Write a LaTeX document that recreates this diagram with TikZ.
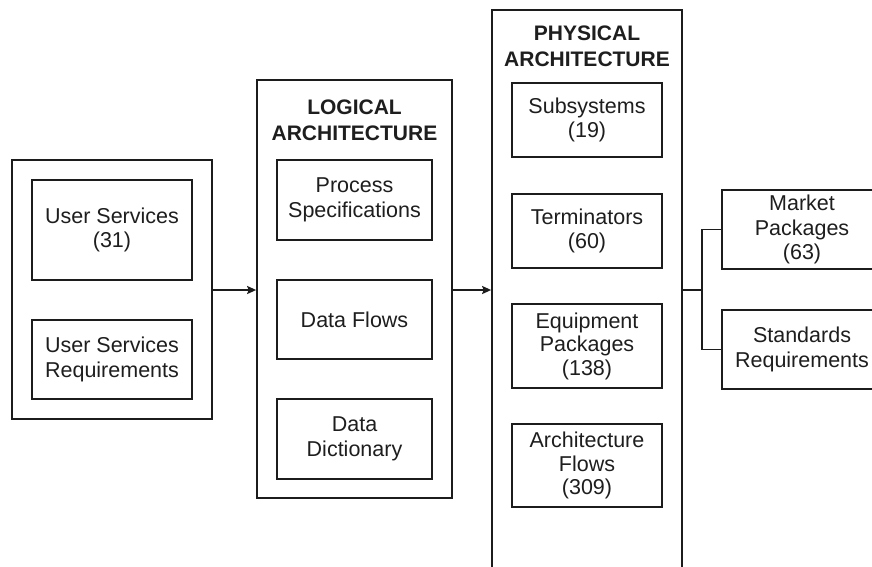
\documentclass[tikz,border=0pt]{standalone}
\usepackage{fontspec}
\setmainfont{Liberation Sans}
\usetikzlibrary{arrows.meta}
\definecolor{lc}{HTML}{1C1C1C}
\definecolor{tc}{HTML}{1E1E1E}
\newcommand\diagfont{\fontsize{21.5}{24.5}\selectfont}
\newcommand\physfont{\fontsize{21.5}{23.5}\selectfont}
\newcommand\titlefont{\fontsize{21}{26}\selectfont\bfseries}
\begin{document}
\begin{tikzpicture}[x=1pt,y=-1pt,
  frame/.style={draw=lc, line width=1.7pt, inner sep=0pt},
  box/.style={draw=lc, line width=1.7pt, inner sep=0pt, align=center, font=\diagfont, text=tc},
  pbox/.style={box, font=\physfont, minimum width=150pt},
  ttl/.style={inner sep=0pt, align=center, font=\titlefont, text=tc},
  conn/.style={draw=lc, line width=1.7pt},
  arr/.style={conn, -{Stealth[length=9pt,width=8pt,inset=1.5pt]}}]
\clip (0,0) rectangle (872,566);
\fill[white] (0,0) rectangle (872,566);

% left group
\node[frame, minimum width=200pt, minimum height=259pt] (user) at (112,289.5) {};
\node[box, minimum width=160pt, minimum height=100pt] (us) at (112,230) {User Services\\(31)};
\node[box, minimum width=160pt, minimum height=79pt] (usr) at (112,359.5) {User Services\\Requirements};

% logical
\node[frame, minimum width=195pt, minimum height=418pt] (logical) at (354.5,289) {};
\node[ttl] (ltitle) at (354.5,120) {LOGICAL\\ARCHITECTURE};
\node[box, minimum width=155pt, minimum height=80pt] (ps) at (354.5,200) {Process\\Specifications};
\node[box, minimum width=155pt, minimum height=79pt] (df) at (354.5,319.5) {Data Flows};
\node[box, minimum width=155pt, minimum height=80pt] (dd) at (354.5,439) {Data\\Dictionary};

% physical
\node[frame, minimum width=190pt, minimum height=590pt] (phys) at (587,305) {};
\node[ttl] (ptitle) at (587,46.5) {PHYSICAL\\ARCHITECTURE};
\node[pbox, minimum height=74pt] (sub) at (587,120) {Subsystems\\(19)};
\node[pbox, minimum height=74pt] (term) at (587,231) {Terminators\\(60)};
\node[pbox, minimum height=84pt] (eq) at (587,346) {Equipment\\Packages\\(138)};
\node[pbox, minimum height=83pt] (af) at (587,465.5) {Architecture\\Flows\\(309)};

% right
\node[box, minimum width=160pt, minimum height=79pt] (mp) at (802,229.5) {Market\\Packages\\(63)};
\node[box, minimum width=160pt, minimum height=79pt] (sr) at (802,349.5) {Standards\\Requirements};

% connectors
\coordinate (j) at (702,290);
\draw[arr] (user.east |- j) -- (logical.west |- j);
\draw[arr] (logical.east |- j) -- (phys.west |- j);
\draw[conn] (phys.east |- j) -- (j);
\draw[conn] (mp.west) -| (j) |- (sr.west);
\end{tikzpicture}
\end{document}
